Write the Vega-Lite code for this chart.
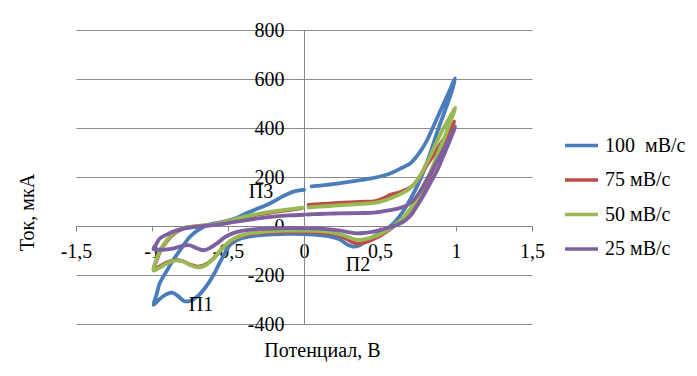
{
  "$schema": "https://vega.github.io/schema/vega-lite/v6.json",
  "width": 456,
  "height": 294,
  "autosize": {"type": "none"},
  "padding": {"left": 76, "top": 30, "right": 165, "bottom": 52},
  "background": "white",
  "config": {
    "view": {"stroke": null},
    "font": "Liberation Serif",
    "axis": {"labelFont": "Liberation Serif", "titleFont": "Liberation Serif", "labelFontSize": 20, "titleFontSize": 20, "labelColor": "#000000", "titleColor": "#000000", "titleFontWeight": "normal", "domainColor": "#868686", "tickColor": "#868686", "gridColor": "#8c8c8c", "gridWidth": 1, "domainWidth": 1, "tickWidth": 1, "tickSize": 5},
    "legend": {"labelFont": "Liberation Serif", "labelFontSize": 20, "labelColor": "#000000"},
    "text": {"font": "Liberation Serif"}
  },
  "datasets": {
    "cv": [
      {"s":"100 \u00a0мВ/с","o":1,"x":0.05,"y":162},{"s":"100 \u00a0мВ/с","o":2,"x":0.15,"y":168},{"s":"100 \u00a0мВ/с","o":3,"x":0.25,"y":176},{"s":"100 \u00a0мВ/с","o":4,"x":0.35,"y":185},{"s":"100 \u00a0мВ/с","o":5,"x":0.45,"y":195},{"s":"100 \u00a0мВ/с","o":6,"x":0.52,"y":205},{"s":"100 \u00a0мВ/с","o":7,"x":0.57,"y":215},{"s":"100 \u00a0мВ/с","o":8,"x":0.63,"y":233},{"s":"100 \u00a0мВ/с","o":9,"x":0.7,"y":256},{"s":"100 \u00a0мВ/с","o":10,"x":0.74,"y":283},{"s":"100 \u00a0мВ/с","o":11,"x":0.78,"y":318},{"s":"100 \u00a0мВ/с","o":12,"x":0.81,"y":351},{"s":"100 \u00a0мВ/с","o":13,"x":0.87,"y":433},{"s":"100 \u00a0мВ/с","o":14,"x":0.94,"y":528},{"s":"100 \u00a0мВ/с","o":15,"x":0.995,"y":603},{"s":"100 \u00a0мВ/с","o":16,"x":0.97,"y":545},{"s":"100 \u00a0мВ/с","o":17,"x":0.93,"y":475},{"s":"100 \u00a0мВ/с","o":18,"x":0.88,"y":390},{"s":"100 \u00a0мВ/с","o":19,"x":0.84,"y":315},{"s":"100 \u00a0мВ/с","o":20,"x":0.8,"y":245},{"s":"100 \u00a0мВ/с","o":21,"x":0.75,"y":170},{"s":"100 \u00a0мВ/с","o":22,"x":0.7,"y":110},{"s":"100 \u00a0мВ/с","o":23,"x":0.65,"y":58},{"s":"100 \u00a0мВ/с","o":24,"x":0.6,"y":18},{"s":"100 \u00a0мВ/с","o":25,"x":0.55,"y":-10},{"s":"100 \u00a0мВ/с","o":26,"x":0.5,"y":-28},{"s":"100 \u00a0мВ/с","o":27,"x":0.45,"y":-45},{"s":"100 \u00a0мВ/с","o":28,"x":0.4,"y":-65},{"s":"100 \u00a0мВ/с","o":29,"x":0.36,"y":-80},{"s":"100 \u00a0мВ/с","o":30,"x":0.32,"y":-84},{"s":"100 \u00a0мВ/с","o":31,"x":0.28,"y":-74},{"s":"100 \u00a0мВ/с","o":32,"x":0.24,"y":-56},{"s":"100 \u00a0мВ/с","o":33,"x":0.18,"y":-44},{"s":"100 \u00a0мВ/с","o":34,"x":0.1,"y":-37},{"s":"100 \u00a0мВ/с","o":35,"x":0,"y":-33},{"s":"100 \u00a0мВ/с","o":36,"x":-0.1,"y":-32},{"s":"100 \u00a0мВ/с","o":37,"x":-0.2,"y":-34},{"s":"100 \u00a0мВ/с","o":38,"x":-0.3,"y":-38},{"s":"100 \u00a0мВ/с","o":39,"x":-0.38,"y":-45},{"s":"100 \u00a0мВ/с","o":40,"x":-0.44,"y":-57},{"s":"100 \u00a0мВ/с","o":41,"x":-0.49,"y":-80},{"s":"100 \u00a0мВ/с","o":42,"x":-0.55,"y":-145},{"s":"100 \u00a0мВ/с","o":43,"x":-0.6,"y":-205},{"s":"100 \u00a0мВ/с","o":44,"x":-0.65,"y":-252},{"s":"100 \u00a0мВ/с","o":45,"x":-0.7,"y":-287},{"s":"100 \u00a0мВ/с","o":46,"x":-0.75,"y":-306},{"s":"100 \u00a0мВ/с","o":47,"x":-0.79,"y":-306},{"s":"100 \u00a0мВ/с","o":48,"x":-0.83,"y":-285},{"s":"100 \u00a0мВ/с","o":49,"x":-0.87,"y":-272},{"s":"100 \u00a0мВ/с","o":50,"x":-0.91,"y":-280},{"s":"100 \u00a0мВ/с","o":51,"x":-0.95,"y":-298},{"s":"100 \u00a0мВ/с","o":52,"x":-0.99,"y":-322},{"s":"100 \u00a0мВ/с","o":53,"x":-0.97,"y":-280},{"s":"100 \u00a0мВ/с","o":54,"x":-0.95,"y":-235},{"s":"100 \u00a0мВ/с","o":55,"x":-0.9,"y":-180},{"s":"100 \u00a0мВ/с","o":56,"x":-0.86,"y":-139},{"s":"100 \u00a0мВ/с","o":57,"x":-0.8,"y":-85},{"s":"100 \u00a0мВ/с","o":58,"x":-0.75,"y":-44},{"s":"100 \u00a0мВ/с","o":59,"x":-0.7,"y":-18},{"s":"100 \u00a0мВ/с","o":60,"x":-0.64,"y":2},{"s":"100 \u00a0мВ/с","o":61,"x":-0.58,"y":12},{"s":"100 \u00a0мВ/с","o":62,"x":-0.52,"y":19},{"s":"100 \u00a0мВ/с","o":63,"x":-0.45,"y":32},{"s":"100 \u00a0мВ/с","o":64,"x":-0.38,"y":52},{"s":"100 \u00a0мВ/с","o":65,"x":-0.3,"y":72},{"s":"100 \u00a0мВ/с","o":66,"x":-0.25,"y":85},{"s":"100 \u00a0мВ/с","o":67,"x":-0.2,"y":100},{"s":"100 \u00a0мВ/с","o":68,"x":-0.15,"y":118},{"s":"100 \u00a0мВ/с","o":69,"x":-0.1,"y":133},{"s":"100 \u00a0мВ/с","o":70,"x":-0.05,"y":143},{"s":"100 \u00a0мВ/с","o":71,"x":0,"y":148},
      {"s":"75 мВ/с","o":1,"x":0.03,"y":86},{"s":"75 мВ/с","o":2,"x":0.1,"y":89},{"s":"75 мВ/с","o":3,"x":0.2,"y":93},{"s":"75 мВ/с","o":4,"x":0.3,"y":96},{"s":"75 мВ/с","o":5,"x":0.4,"y":99},{"s":"75 мВ/с","o":6,"x":0.46,"y":101},{"s":"75 мВ/с","o":7,"x":0.52,"y":112},{"s":"75 мВ/с","o":8,"x":0.57,"y":127},{"s":"75 мВ/с","o":9,"x":0.63,"y":138},{"s":"75 мВ/с","o":10,"x":0.68,"y":150},{"s":"75 мВ/с","o":11,"x":0.72,"y":168},{"s":"75 мВ/с","o":12,"x":0.76,"y":200},{"s":"75 мВ/с","o":13,"x":0.8,"y":240},{"s":"75 мВ/с","o":14,"x":0.85,"y":288},{"s":"75 мВ/с","o":15,"x":0.9,"y":337},{"s":"75 мВ/с","o":16,"x":0.95,"y":385},{"s":"75 мВ/с","o":17,"x":0.99,"y":426},{"s":"75 мВ/с","o":18,"x":0.96,"y":375},{"s":"75 мВ/с","o":19,"x":0.92,"y":320},{"s":"75 мВ/с","o":20,"x":0.88,"y":270},{"s":"75 мВ/с","o":21,"x":0.84,"y":218},{"s":"75 мВ/с","o":22,"x":0.8,"y":168},{"s":"75 мВ/с","o":23,"x":0.75,"y":110},{"s":"75 мВ/с","o":24,"x":0.7,"y":66},{"s":"75 мВ/с","o":25,"x":0.65,"y":30},{"s":"75 мВ/с","o":26,"x":0.6,"y":3},{"s":"75 мВ/с","o":27,"x":0.55,"y":-20},{"s":"75 мВ/с","o":28,"x":0.5,"y":-40},{"s":"75 мВ/с","o":29,"x":0.45,"y":-55},{"s":"75 мВ/с","o":30,"x":0.4,"y":-67},{"s":"75 мВ/с","o":31,"x":0.36,"y":-72},{"s":"75 мВ/с","o":32,"x":0.32,"y":-66},{"s":"75 мВ/с","o":33,"x":0.26,"y":-46},{"s":"75 мВ/с","o":34,"x":0.2,"y":-33},{"s":"75 мВ/с","o":35,"x":0.1,"y":-26},{"s":"75 мВ/с","o":36,"x":0,"y":-23},{"s":"75 мВ/с","o":37,"x":-0.1,"y":-23},{"s":"75 мВ/с","o":38,"x":-0.2,"y":-25},{"s":"75 мВ/с","o":39,"x":-0.3,"y":-29},{"s":"75 мВ/с","o":40,"x":-0.4,"y":-38},{"s":"75 мВ/с","o":41,"x":-0.45,"y":-50},{"s":"75 мВ/с","o":42,"x":-0.5,"y":-70},{"s":"75 мВ/с","o":43,"x":-0.55,"y":-100},{"s":"75 мВ/с","o":44,"x":-0.6,"y":-135},{"s":"75 мВ/с","o":45,"x":-0.65,"y":-158},{"s":"75 мВ/с","o":46,"x":-0.7,"y":-166},{"s":"75 мВ/с","o":47,"x":-0.75,"y":-157},{"s":"75 мВ/с","o":48,"x":-0.8,"y":-143},{"s":"75 мВ/с","o":49,"x":-0.85,"y":-139},{"s":"75 мВ/с","o":50,"x":-0.9,"y":-148},{"s":"75 мВ/с","o":51,"x":-0.95,"y":-165},{"s":"75 мВ/с","o":52,"x":-0.99,"y":-178},{"s":"75 мВ/с","o":53,"x":-0.97,"y":-140},{"s":"75 мВ/с","o":54,"x":-0.94,"y":-95},{"s":"75 мВ/с","o":55,"x":-0.9,"y":-60},{"s":"75 мВ/с","o":56,"x":-0.85,"y":-30},{"s":"75 мВ/с","o":57,"x":-0.8,"y":-12},{"s":"75 мВ/с","o":58,"x":-0.7,"y":-1},{"s":"75 мВ/с","o":59,"x":-0.6,"y":6},{"s":"75 мВ/с","o":60,"x":-0.5,"y":18},{"s":"75 мВ/с","o":61,"x":-0.4,"y":32},{"s":"75 мВ/с","o":62,"x":-0.3,"y":47},{"s":"75 мВ/с","o":63,"x":-0.2,"y":57},{"s":"75 мВ/с","o":64,"x":-0.1,"y":65},{"s":"75 мВ/с","o":65,"x":-0.02,"y":72},
      {"s":"50 мВ/с","o":1,"x":0.03,"y":76},{"s":"50 мВ/с","o":2,"x":0.1,"y":79},{"s":"50 мВ/с","o":3,"x":0.2,"y":83},{"s":"50 мВ/с","o":4,"x":0.3,"y":87},{"s":"50 мВ/с","o":5,"x":0.4,"y":91},{"s":"50 мВ/с","o":6,"x":0.46,"y":94},{"s":"50 мВ/с","o":7,"x":0.52,"y":102},{"s":"50 мВ/с","o":8,"x":0.58,"y":115},{"s":"50 мВ/с","o":9,"x":0.64,"y":132},{"s":"50 мВ/с","o":10,"x":0.69,"y":150},{"s":"50 мВ/с","o":11,"x":0.73,"y":175},{"s":"50 мВ/с","o":12,"x":0.77,"y":212},{"s":"50 мВ/с","o":13,"x":0.81,"y":260},{"s":"50 мВ/с","o":14,"x":0.86,"y":325},{"s":"50 мВ/с","o":15,"x":0.91,"y":390},{"s":"50 мВ/с","o":16,"x":0.96,"y":445},{"s":"50 мВ/с","o":17,"x":0.995,"y":482},{"s":"50 мВ/с","o":18,"x":0.96,"y":420},{"s":"50 мВ/с","o":19,"x":0.92,"y":355},{"s":"50 мВ/с","o":20,"x":0.88,"y":295},{"s":"50 мВ/с","o":21,"x":0.84,"y":232},{"s":"50 мВ/с","o":22,"x":0.8,"y":180},{"s":"50 мВ/с","o":23,"x":0.75,"y":118},{"s":"50 мВ/с","o":24,"x":0.7,"y":70},{"s":"50 мВ/с","o":25,"x":0.65,"y":32},{"s":"50 мВ/с","o":26,"x":0.6,"y":6},{"s":"50 мВ/с","o":27,"x":0.55,"y":-16},{"s":"50 мВ/с","o":28,"x":0.5,"y":-33},{"s":"50 мВ/с","o":29,"x":0.45,"y":-46},{"s":"50 мВ/с","o":30,"x":0.4,"y":-54},{"s":"50 мВ/с","o":31,"x":0.36,"y":-57},{"s":"50 мВ/с","o":32,"x":0.32,"y":-52},{"s":"50 мВ/с","o":33,"x":0.26,"y":-38},{"s":"50 мВ/с","o":34,"x":0.2,"y":-28},{"s":"50 мВ/с","o":35,"x":0.1,"y":-21},{"s":"50 мВ/с","o":36,"x":0,"y":-19},{"s":"50 мВ/с","o":37,"x":-0.1,"y":-19},{"s":"50 мВ/с","o":38,"x":-0.2,"y":-21},{"s":"50 мВ/с","o":39,"x":-0.3,"y":-26},{"s":"50 мВ/с","o":40,"x":-0.4,"y":-36},{"s":"50 мВ/с","o":41,"x":-0.45,"y":-48},{"s":"50 мВ/с","o":42,"x":-0.5,"y":-68},{"s":"50 мВ/с","o":43,"x":-0.55,"y":-100},{"s":"50 мВ/с","o":44,"x":-0.6,"y":-136},{"s":"50 мВ/с","o":45,"x":-0.65,"y":-161},{"s":"50 мВ/с","o":46,"x":-0.7,"y":-169},{"s":"50 мВ/с","o":47,"x":-0.75,"y":-159},{"s":"50 мВ/с","o":48,"x":-0.8,"y":-144},{"s":"50 мВ/с","o":49,"x":-0.85,"y":-141},{"s":"50 мВ/с","o":50,"x":-0.9,"y":-152},{"s":"50 мВ/с","o":51,"x":-0.95,"y":-170},{"s":"50 мВ/с","o":52,"x":-0.99,"y":-182},{"s":"50 мВ/с","o":53,"x":-0.97,"y":-135},{"s":"50 мВ/с","o":54,"x":-0.94,"y":-92},{"s":"50 мВ/с","o":55,"x":-0.9,"y":-56},{"s":"50 мВ/с","o":56,"x":-0.85,"y":-26},{"s":"50 мВ/с","o":57,"x":-0.8,"y":-9},{"s":"50 мВ/с","o":58,"x":-0.7,"y":0},{"s":"50 мВ/с","o":59,"x":-0.6,"y":6},{"s":"50 мВ/с","o":60,"x":-0.5,"y":20},{"s":"50 мВ/с","o":61,"x":-0.4,"y":36},{"s":"50 мВ/с","o":62,"x":-0.3,"y":50},{"s":"50 мВ/с","o":63,"x":-0.2,"y":60},{"s":"50 мВ/с","o":64,"x":-0.1,"y":68},{"s":"50 мВ/с","o":65,"x":-0.01,"y":75},
      {"s":"25 мВ/с","o":1,"x":0.02,"y":47},{"s":"25 мВ/с","o":2,"x":0.1,"y":49},{"s":"25 мВ/с","o":3,"x":0.2,"y":51},{"s":"25 мВ/с","o":4,"x":0.3,"y":52},{"s":"25 мВ/с","o":5,"x":0.4,"y":53},{"s":"25 мВ/с","o":6,"x":0.46,"y":55},{"s":"25 мВ/с","o":7,"x":0.52,"y":60},{"s":"25 мВ/с","o":8,"x":0.58,"y":66},{"s":"25 мВ/с","o":9,"x":0.63,"y":73},{"s":"25 мВ/с","o":10,"x":0.68,"y":85},{"s":"25 мВ/с","o":11,"x":0.72,"y":105},{"s":"25 мВ/с","o":12,"x":0.76,"y":138},{"s":"25 мВ/с","o":13,"x":0.8,"y":180},{"s":"25 мВ/с","o":14,"x":0.85,"y":235},{"s":"25 мВ/с","o":15,"x":0.9,"y":292},{"s":"25 мВ/с","o":16,"x":0.95,"y":348},{"s":"25 мВ/с","o":17,"x":0.995,"y":405},{"s":"25 мВ/с","o":18,"x":0.96,"y":350},{"s":"25 мВ/с","o":19,"x":0.92,"y":290},{"s":"25 мВ/с","o":20,"x":0.88,"y":232},{"s":"25 мВ/с","o":21,"x":0.84,"y":185},{"s":"25 мВ/с","o":22,"x":0.8,"y":140},{"s":"25 мВ/с","o":23,"x":0.75,"y":88},{"s":"25 мВ/с","o":24,"x":0.7,"y":42},{"s":"25 мВ/с","o":25,"x":0.65,"y":16},{"s":"25 мВ/с","o":26,"x":0.6,"y":2},{"s":"25 мВ/с","o":27,"x":0.55,"y":-8},{"s":"25 мВ/с","o":28,"x":0.5,"y":-17},{"s":"25 мВ/с","o":29,"x":0.45,"y":-24},{"s":"25 мВ/с","o":30,"x":0.4,"y":-28},{"s":"25 мВ/с","o":31,"x":0.35,"y":-30},{"s":"25 мВ/с","o":32,"x":0.3,"y":-26},{"s":"25 мВ/с","o":33,"x":0.24,"y":-19},{"s":"25 мВ/с","o":34,"x":0.15,"y":-13},{"s":"25 мВ/с","o":35,"x":0.05,"y":-10},{"s":"25 мВ/с","o":36,"x":-0.1,"y":-9},{"s":"25 мВ/с","o":37,"x":-0.2,"y":-10},{"s":"25 мВ/с","o":38,"x":-0.3,"y":-12},{"s":"25 мВ/с","o":39,"x":-0.4,"y":-19},{"s":"25 мВ/с","o":40,"x":-0.46,"y":-28},{"s":"25 мВ/с","o":41,"x":-0.52,"y":-45},{"s":"25 мВ/с","o":42,"x":-0.57,"y":-70},{"s":"25 мВ/с","o":43,"x":-0.62,"y":-90},{"s":"25 мВ/с","o":44,"x":-0.66,"y":-99},{"s":"25 мВ/с","o":45,"x":-0.7,"y":-92},{"s":"25 мВ/с","o":46,"x":-0.75,"y":-79},{"s":"25 мВ/с","o":47,"x":-0.8,"y":-81},{"s":"25 мВ/с","o":48,"x":-0.85,"y":-90},{"s":"25 мВ/с","o":49,"x":-0.9,"y":-95},{"s":"25 мВ/с","o":50,"x":-0.95,"y":-97},{"s":"25 мВ/с","o":51,"x":-0.99,"y":-94},{"s":"25 мВ/с","o":52,"x":-0.97,"y":-72},{"s":"25 мВ/с","o":53,"x":-0.95,"y":-52},{"s":"25 мВ/с","o":54,"x":-0.9,"y":-34},{"s":"25 мВ/с","o":55,"x":-0.86,"y":-23},{"s":"25 мВ/с","o":56,"x":-0.8,"y":-12},{"s":"25 мВ/с","o":57,"x":-0.73,"y":-5},{"s":"25 мВ/с","o":58,"x":-0.6,"y":4},{"s":"25 мВ/с","o":59,"x":-0.5,"y":12},{"s":"25 мВ/с","o":60,"x":-0.4,"y":22},{"s":"25 мВ/с","o":61,"x":-0.3,"y":31},{"s":"25 мВ/с","o":62,"x":-0.2,"y":38},{"s":"25 мВ/с","o":63,"x":-0.1,"y":43},{"s":"25 мВ/с","o":64,"x":0,"y":46}
    ],
    "peaks": [
      {"label": "П1", "x": -0.678, "y": -323},
      {"label": "П2", "x": 0.355, "y": -159},
      {"label": "П3", "x": -0.283, "y": 137}
    ]
  },
  "layer": [
    {
      "data": {"name": "cv"},
      "mark": {"type": "line", "interpolate": "catmull-rom", "strokeWidth": 3.8, "strokeCap": "round", "strokeJoin": "round", "clip": false},
      "encoding": {
        "x": {"field": "x", "type": "quantitative", "scale": {"domain": [-1.5, 1.5], "nice": false, "zero": false},
          "axis": {"values": [-1.5, -1, -0.5, 0, 0.5, 1, 1.5], "format": ".1~f", "labelExpr": "replace(replace(datum.label, '−', '-'), '.', ',')", "offset": -98, "grid": false, "labelPadding": 10, "labelFlush": false, "labelOverlap": false, "labelFont": "Liberation Serif", "title": "Потенциал, В", "titleFont": "Liberation Serif", "titleX": 246, "titleY": 124, "titleBaseline": "middle", "titleAnchor": null, "titleAlign": "center"}},
        "y": {"field": "y", "type": "quantitative", "scale": {"domain": [-400, 800], "nice": false, "zero": false},
          "axis": {"values": [-400, -200, 0, 200, 400, 600, 800], "format": "d", "labelExpr": "replace(datum.label, '−', '-')", "offset": -228, "grid": true, "labelPadding": 15, "labelFlush": false, "labelOverlap": false, "labelFont": "Liberation Serif", "title": "Ток, мкА", "titleFont": "Liberation Serif", "titleX": -277, "titleY": 182, "titleBaseline": "middle", "titleAngle": -90, "titleAlign": "center", "titleAnchor": null}},
        "order": {"field": "o", "type": "quantitative"},
        "color": {"field": "s", "type": "nominal",
          "scale": {"domain": ["100 \u00a0мВ/с", "75 мВ/с", "50 мВ/с", "25 мВ/с"], "range": ["#4A7EBB", "#BE4B48", "#98B954", "#7D60A0"]},
          "legend": {"title": null, "orient": "none", "legendX": 487, "legendY": 97, "symbolType": "stroke", "symbolSize": 1089, "symbolStrokeWidth": 3.5, "rowPadding": 5.5, "labelOffset": 5, "padding": 0, "labelLimit": 200, "labelFont": "Liberation Serif"}}
      }
    },
    {
      "data": {"name": "peaks"},
      "mark": {"type": "text", "font": "Liberation Serif", "fontSize": 20, "color": "#000000", "align": "center", "baseline": "middle"},
      "encoding": {
        "x": {"field": "x", "type": "quantitative"},
        "y": {"field": "y", "type": "quantitative"},
        "text": {"field": "label"}
      }
    }
  ]
}
